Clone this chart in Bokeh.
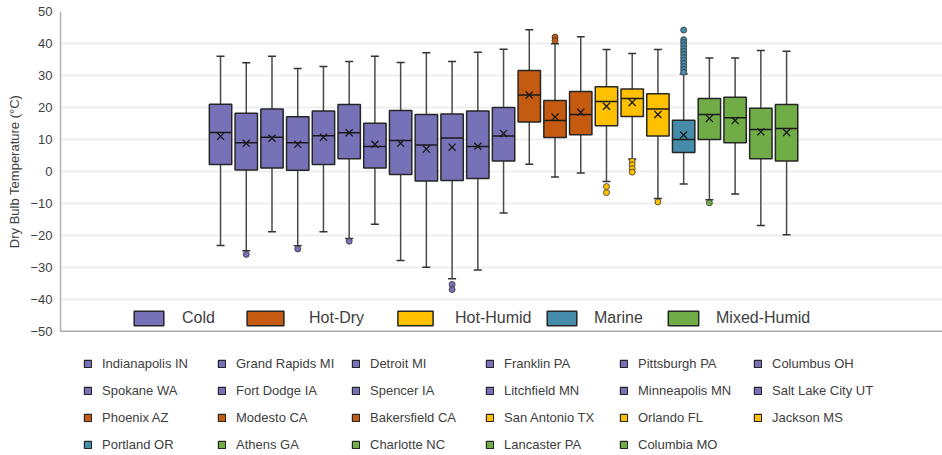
from bokeh.plotting import figure
from bokeh.layouts import column
from bokeh.models import (ColumnDataSource, Range1d, FixedTicker, Legend,
                          LegendItem, Span)
from bokeh.embed import file_html
from bokeh.resources import INLINE

# ---- data: annual dry bulb temperature distribution per site (°C) ----
cities = ["Indianapolis IN", "Grand Rapids MI", "Detroit MI", "Franklin PA",
          "Pittsburgh PA", "Columbus OH", "Spokane WA", "Fort Dodge IA",
          "Spencer IA", "Litchfield MN", "Minneapolis MN", "Salt Lake City UT",
          "Phoenix AZ", "Modesto CA", "Bakersfield CA", "San Antonio TX",
          "Orlando FL", "Jackson MS", "Portland OR", "Athens GA",
          "Charlotte NC", "Lancaster PA", "Columbia MO"]
climate = ["Cold", "Cold", "Cold", "Cold", "Cold", "Cold", "Cold", "Cold",
           "Cold", "Cold", "Cold", "Cold", "Hot-Dry", "Hot-Dry", "Hot-Dry",
           "Hot-Humid", "Hot-Humid", "Hot-Humid", "Marine", "Mixed-Humid",
           "Mixed-Humid", "Mixed-Humid", "Mixed-Humid"]
whisker_high = [36.0, 34.0, 36.0, 32.2, 32.8, 34.4, 36.0, 34.1, 37.1, 34.4,
                37.3, 38.2, 44.3, 39.9, 42.1, 38.1, 36.9, 38.1, 30.5, 35.5,
                35.5, 37.8, 37.6]
q3 = [21.0, 18.2, 19.5, 17.1, 18.9, 20.9, 15.1, 19.1, 17.8, 18.0, 18.9, 20.0,
      31.6, 22.2, 25.0, 26.5, 25.8, 24.3, 16.0, 22.8, 23.2, 19.8, 20.9]
median = [12.2, 9.0, 10.7, 9.0, 11.2, 12.1, 7.8, 9.7, 8.3, 10.5, 7.8, 11.1,
          23.9, 15.9, 17.8, 21.9, 22.8, 19.5, 10.0, 17.8, 16.8, 13.1, 13.4]
mean = [11.0, 8.8, 10.4, 8.5, 10.7, 12.1, 8.5, 8.8, 7.0, 7.6, 7.9, 11.9,
        23.9, 17.0, 18.5, 20.4, 21.6, 17.8, 11.4, 16.6, 15.9, 12.4, 12.2]
q1 = [2.2, 0.5, 1.1, 0.4, 2.2, 4.0, 1.1, -0.9, -3.0, -2.8, -2.2, 3.3,
      15.5, 10.6, 11.5, 14.3, 17.2, 11.1, 5.9, 10.0, 9.0, 4.0, 3.3]
whisker_low = [-23.1, -24.8, -18.8, -23.2, -18.8, -20.9, -16.5, -27.8, -29.9,
               -33.5, -30.8, -13.0, 2.3, -1.7, -0.5, -3.1, 3.9, -8.4, -3.9,
               -8.8, -7.0, -16.9, -19.8]
outliers = [[], [-25.9], [], [-24.2], [], [-21.8], [], [], [], [-35.3, -36.9],
            [], [], [], [42.0, 40.9], [], [-4.7, -6.6],
            [3.2, 2.1, 0.9, -0.2], [-9.5],
            [44.2, 41.2, 40.3, 39.4, 38.4, 37.5, 36.6, 35.6, 34.7, 33.8, 32.8,
             31.9, 31.0],
            [-9.8], [], [], []]

zones = ["Cold", "Hot-Dry", "Hot-Humid", "Marine", "Mixed-Humid"]
zone_colors = {"Cold": "#7772B8", "Hot-Dry": "#C55A11", "Hot-Humid": "#FFC000",
               "Marine": "#458CAA", "Mixed-Humid": "#70AD47"}
y_ticks = [-50, -40, -30, -20, -10, 0, 10, 20, 30, 40, 50]

FONT = "Liberation Sans"
TEXT = "#404040"
EDGE = "#262626"
BOX_W = 0.87

xs = list(range(len(cities)))
colors = [zone_colors[c] for c in climate]

stats = ColumnDataSource(dict(
    x=xs, lo=whisker_low, q1=q1, med=median, q3=q3, hi=whisker_high,
    mean=mean, left=[x - BOX_W / 2 for x in xs],
    right=[x + BOX_W / 2 for x in xs]))

# ---------------- main box plot ----------------
p = figure(width=942, height=340, output_backend="svg", toolbar_location=None,
           x_range=Range1d(-6.22, 28.06), y_range=Range1d(-50, 50),
           min_border_left=60, min_border_right=0, min_border_top=11,
           min_border_bottom=9)
p.xaxis.visible = False
p.xgrid.visible = False
p.outline_line_color = None
p.background_fill_color = "white"

p.ygrid.ticker = FixedTicker(ticks=y_ticks)
p.ygrid.grid_line_color = "#ececec"
p.ygrid.grid_line_width = 1.5

ax = p.yaxis[0]
ax.ticker = FixedTicker(ticks=y_ticks)
ax.axis_label = "Dry Bulb Temperature (\u00b0C)"
ax.axis_label_text_font = FONT
ax.axis_label_text_font_size = "13px"
ax.axis_label_text_font_style = "normal"
ax.axis_label_text_color = TEXT
ax.axis_label_standoff = 5
ax.major_label_text_font = FONT
ax.major_label_text_font_size = "13px"
ax.major_label_text_color = TEXT
ax.major_label_standoff = 8
ax.major_tick_out = 0
ax.major_tick_in = 0
ax.minor_tick_out = 0
ax.minor_tick_in = 0
ax.axis_line_color = "#b5b5b5"
ax.axis_line_width = 1.5

# baseline under the plot area
p.add_layout(Span(location=-50, dimension="width", line_color="#5a5a5a",
                  line_width=1.5))

# whiskers and caps
p.segment(x0="x", y0="q3", x1="x", y1="hi", source=stats,
          line_color="#4a4a4a", line_width=1.5)
p.segment(x0="x", y0="q1", x1="x", y1="lo", source=stats,
          line_color="#4a4a4a", line_width=1.5)
p.scatter(x="x", y="hi", source=stats, marker="dash", size=8,
          line_color="#333333", line_width=1.5)
p.scatter(x="x", y="lo", source=stats, marker="dash", size=8,
          line_color="#333333", line_width=1.5)

# one box renderer per site
box_renderers = []
for i, name in enumerate(cities):
    r = p.vbar(x=[xs[i]], top=[q3[i]], bottom=[q1[i]], width=BOX_W,
               fill_color=colors[i], line_color=EDGE, line_width=1.5)
    box_renderers.append(r)

# medians and means
p.segment(x0="left", y0="med", x1="right", y1="med", source=stats,
          line_color="#1a1a1a", line_width=1.5)
p.scatter(x="x", y="mean", source=stats, marker="x", size=10,
          line_color="#1a1a1a", line_width=1.3)

# outliers
ox, oy, oc = [], [], []
for i, pts in enumerate(outliers):
    for v in pts:
        ox.append(xs[i])
        oy.append(v)
        oc.append(colors[i])
p.scatter(x=ox, y=oy, marker="circle", size=6, fill_color=oc,
          line_color="#333333", line_width=0.8)

# climate zone key inside the plot area (one small legend per zone)
zone_x = [70, 182, 333, 483, 604]
zone_glyph_w = [37, 46, 44, 37, 38]
zone_standoff = [15, 21, 18, 14, 14]
for k, zone in enumerate(zones):
    first = climate.index(zone)
    lg = Legend(items=[LegendItem(label=zone, renderers=[box_renderers[first]])],
                location=(zone_x[k], 4), orientation="horizontal",
                glyph_width=zone_glyph_w[k], glyph_height=18, label_height=18,
                label_standoff=zone_standoff[k], padding=0, margin=0,
                label_text_font=FONT, label_text_font_size="16px",
                label_text_color=TEXT, background_fill_alpha=0,
                border_line_alpha=0)
    p.add_layout(lg)

# ---------------- site key ----------------
key = figure(width=942, height=115, output_backend="svg", toolbar_location=None,
             x_range=Range1d(-6.22, 28.06), y_range=Range1d(-50, 50),
             x_axis_location=None, y_axis_location=None,
             min_border_left=0, min_border_right=0, min_border_top=0,
             min_border_bottom=0)
key.grid.visible = False
key.outline_line_color = None

key_items = []
for i, c in enumerate(cities):
    swatch = key.vbar(x=[xs[i]], top=[q3[i]], bottom=[q1[i]], width=BOX_W,
                      fill_color=colors[i], line_color=EDGE, line_width=1.2,
                      visible=False)
    key_items.append(LegendItem(label=c, renderers=[swatch]))

site_legend = Legend(
    items=key_items, location=(23, 2), orientation="horizontal", ncols=6,
    glyph_width=9, glyph_height=9, label_height=17, label_width=105,
    label_standoff=10, spacing=10, padding=0, margin=0,
    label_text_font=FONT, label_text_font_size="13px", label_text_color=TEXT,
    background_fill_alpha=0, border_line_alpha=0, inactive_fill_alpha=0)
key.add_layout(site_legend)

layout = column(p, key, spacing=0)
open("out.html", "w").write(file_html(layout, INLINE))
